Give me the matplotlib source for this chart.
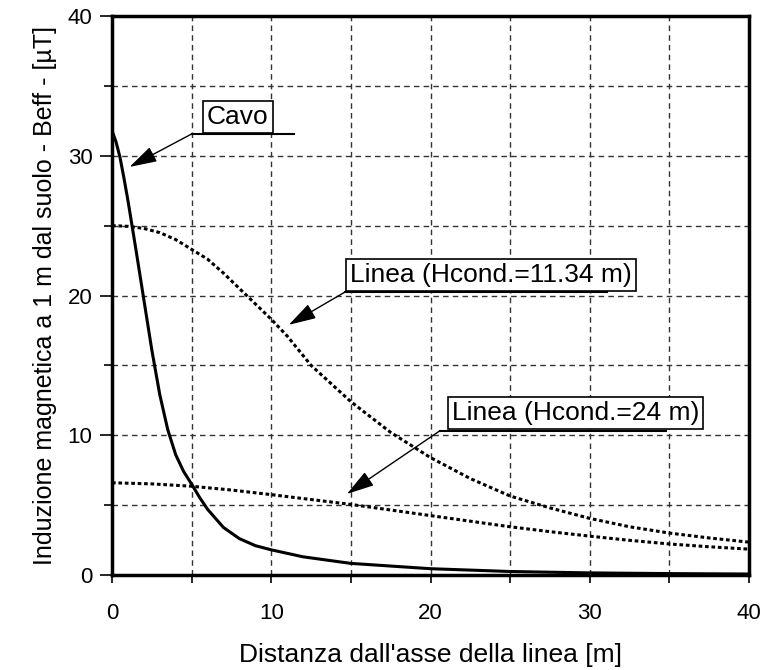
import matplotlib
matplotlib.use("Agg")
import matplotlib.pyplot as plt
from matplotlib.ticker import MultipleLocator

plt.rcParams['font.family'] = ['Liberation Sans', 'DejaVu Sans']

# distance from line axis [m] and field [uT]
cavo_x = [0, 0.25, 0.5, 0.75, 1, 1.5, 2, 2.5, 3, 3.5, 4, 4.5, 5, 5.5, 6, 7, 8, 9, 10,
          12, 15, 20, 25, 30, 35, 40]
cavo_y = [31.8, 31.0, 29.9, 28.4, 26.8, 23.3, 19.7, 16.1, 12.9, 10.4, 8.6, 7.4, 6.5, 5.55, 4.7,
          3.4, 2.6, 2.1, 1.8, 1.3, 0.83, 0.45, 0.25, 0.15, 0.1, 0.07]

linea11_x = [0, 1, 2, 3, 4, 5, 6, 7, 8, 9, 10, 11, 12.5, 15, 17.5, 20, 22.5, 25, 27.5,
             30, 32.5, 35, 37.5, 40]
linea11_y = [25.0, 24.95, 24.8, 24.5, 24.0, 23.3, 22.6, 21.6, 20.5, 19.4, 18.3, 17.1, 15.0,
             12.4, 10.2, 8.4, 6.9, 5.65, 4.8, 4.05, 3.45, 3.0, 2.65, 2.35]

linea24_x = [0, 2.5, 5, 7.5, 10, 12.5, 15, 17.5, 20, 22.5, 25, 27.5, 30, 32.5, 35, 37.5, 40]
linea24_y = [6.6, 6.52, 6.35, 6.08, 5.75, 5.4, 5.05, 4.65, 4.25, 3.85, 3.45, 3.1, 2.78, 2.48,
             2.22, 2.02, 1.85]

# label, box centre, box bottom, underline (x0, x1), arrow tip
labels = [
    ("Cavo", (7.9, 32.8), 31.56, (5.0, 11.4), (1.1, 29.2)),
    ("Linea (Hcond.=11.34 m)", (23.8, 21.48), 20.23, (14.6, 31.1), (11.1, 17.9)),
    ("Linea (Hcond.=24 m)", (29.1, 11.57), 10.33, (20.6, 34.8), (14.75, 5.8)),
]

fig = plt.figure(figsize=(7.63, 6.7), dpi=100)
ax = fig.add_axes([0.1468, 0.1418, 0.8349, 0.8343])

ax.plot(cavo_x, cavo_y, color='black', lw=2.2, solid_capstyle='butt')
ax.plot(linea11_x, linea11_y, color='black', lw=2.2, linestyle=(0, (1.2, 0.9)))
ax.plot(linea24_x, linea24_y, color='black', lw=2.2, linestyle=(0, (1.2, 0.9)))

ax.set_xlim(0, 40)
ax.set_ylim(0, 40)
ax.xaxis.set_major_locator(MultipleLocator(10))
ax.xaxis.set_minor_locator(MultipleLocator(5))
ax.yaxis.set_major_locator(MultipleLocator(10))
ax.yaxis.set_minor_locator(MultipleLocator(5))
ax.grid(True, which='both', color='#333333', linestyle=(0, (4, 3)), lw=1)
ax.tick_params(which='both', direction='out', width=1.2, labelsize=16)
ax.tick_params(axis='y', which='major', length=9, pad=5)
ax.tick_params(axis='y', which='minor', length=6)
ax.tick_params(axis='x', which='major', length=6, pad=14)
ax.tick_params(axis='x', which='minor', length=6)
for s in ax.spines.values():
    s.set_linewidth(2.5)

ax.set_xlabel("Distanza dall'asse della linea [m]", fontsize=19, labelpad=14)
ax.set_ylabel("Induzione magnetica a 1 m dal suolo - Beff - [µT]", fontsize=18, labelpad=8)

for text, centre, by, (ux0, ux1), tip in labels:
    ax.text(centre[0], centre[1], text, fontsize=19, ha='center', va='center',
            bbox=dict(boxstyle='square,pad=0.15', fc='white', ec='black', lw=1.2))
    ax.plot([ux0, ux1], [by, by], color='black', lw=1.5)
    ax.annotate('', xy=tip, xytext=(ux0, by),
                arrowprops=dict(arrowstyle='-|>,head_length=1.7,head_width=0.5',
                                color='black', lw=1, shrinkA=0, shrinkB=0))

fig.savefig('out.png', dpi=100)
